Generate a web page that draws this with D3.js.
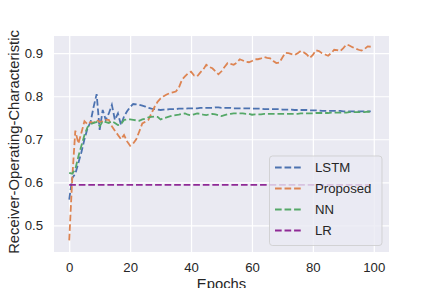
<!DOCTYPE html>
<html>
<head>
<meta charset="utf-8">
<script src="https://cdn.jsdelivr.net/npm/d3@7"></script>
<style>
  body { margin: 0; background: #fff; }
  text { font-family: "Liberation Sans", Arial, sans-serif; fill: #262626; }
</style>
</head>
<body>
<svg class="chart" width="432" height="288"></svg>
<script>
// values, one per epoch (0..99)
const lstm = [0.56,0.61,0.62,0.645,0.67,0.70,0.725,0.74,0.775,0.805,
  0.722,0.768,0.745,0.76,0.78,0.745,0.76,0.733,0.753,0.765,
  0.775,0.782,0.781,0.78,0.778,0.776,0.773,0.771,0.770,0.769,
  0.768,0.769,0.769,0.770,0.770,0.770,0.771,0.771,0.771,0.772,
  0.772,0.772,0.772,0.773,0.773,0.773,0.773,0.773,0.774,0.774,
  0.773,0.773,0.773,0.773,0.772,0.772,0.772,0.772,0.772,0.772,
  0.771,0.771,0.771,0.771,0.770,0.770,0.770,0.770,0.770,0.770,
  0.769,0.769,0.769,0.769,0.768,0.768,0.768,0.768,0.768,0.767,
  0.767,0.767,0.767,0.766,0.766,0.766,0.766,0.766,0.766,0.766,
  0.765,0.765,0.765,0.765,0.765,0.765,0.765,0.765,0.765,0.765]

const proposed = [0.465,0.61,0.72,0.69,0.715,0.742,0.735,0.74,0.738,0.745,
  0.74,0.742,0.745,0.745,0.73,0.72,0.71,0.70,0.71,0.695,
  0.685,0.69,0.70,0.718,0.737,0.741,0.745,0.76,0.775,0.787,
  0.795,0.80,0.804,0.807,0.809,0.811,0.82,0.838,0.846,0.853,
  0.857,0.848,0.846,0.855,0.862,0.873,0.868,0.865,0.858,0.851,
  0.858,0.868,0.877,0.875,0.873,0.878,0.886,0.883,0.88,0.879,
  0.882,0.886,0.886,0.888,0.891,0.889,0.888,0.882,0.877,0.878,
  0.89,0.901,0.90,0.898,0.896,0.90,0.905,0.902,0.897,0.889,
  0.896,0.907,0.905,0.90,0.897,0.894,0.90,0.908,0.907,0.905,
  0.912,0.92,0.918,0.914,0.911,0.908,0.906,0.91,0.916,0.915]

const nn = [0.622,0.62,0.63,0.66,0.685,0.71,0.728,0.735,0.738,0.74,
  0.73,0.742,0.74,0.738,0.742,0.738,0.733,0.735,0.745,0.746,
  0.746,0.745,0.744,0.743,0.746,0.748,0.751,0.752,0.753,0.752,
  0.746,0.749,0.751,0.753,0.755,0.756,0.757,0.759,0.76,0.757,
  0.756,0.758,0.76,0.759,0.757,0.756,0.758,0.759,0.758,0.756,
  0.754,0.756,0.758,0.759,0.76,0.76,0.76,0.76,0.759,0.759,
  0.757,0.758,0.758,0.758,0.759,0.759,0.759,0.759,0.759,0.759,
  0.759,0.759,0.759,0.759,0.759,0.759,0.760,0.760,0.760,0.760,
  0.760,0.761,0.761,0.761,0.761,0.761,0.762,0.762,0.762,0.762,
  0.762,0.762,0.763,0.763,0.763,0.763,0.763,0.763,0.764,0.764]

const lrValue = 0.594
const lr = lstm.map(() => lrValue)

const seriesNames = ['LSTM','Proposed','NN','LR']
const seriesColors = ['#4C72B0','#DD8452','#55A868','#8f2a96']
const seriesValues = [lstm, proposed, nn, lr]

const xTicks = [0,20,40,60,80,100]
const yTicks = [0.5,0.6,0.7,0.8,0.9]

const svg = d3.select('.chart')
const plotLeft = 54, plotRight = 389, plotTop = 36, plotBottom = 252

const x = d3.scaleLinear().domain([-5,105]).range([plotLeft,plotRight])
const y = d3.scaleLinear().domain([0.438,0.940]).range([plotBottom,plotTop])

// plot background
svg.append('rect')
  .attr('x',plotLeft).attr('y',plotTop)
  .attr('width',plotRight-plotLeft).attr('height',plotBottom-plotTop)
  .attr('fill','#EAEAF2')

// grid
const xAxis = svg.append('g')
  .attr('transform',`translate(0,${plotBottom})`)
  .call(d3.axisBottom(x).tickValues(xTicks).tickSize(-(plotBottom-plotTop)).tickPadding(8).tickFormat(d3.format('d')))
const yAxis = svg.append('g')
  .attr('transform',`translate(${plotLeft},0)`)
  .call(d3.axisLeft(y).tickValues(yTicks).tickSize(-(plotRight-plotLeft)).tickPadding(11).tickFormat(d3.format('.1f')))

svg.selectAll('.domain').remove()
svg.selectAll('.tick line').attr('stroke','#fff').attr('stroke-width',1.2)
svg.selectAll('.tick text')
  .style('font-size','13.2px')
  .attr('fill','#262626')
xAxis.selectAll('.tick text').attr('dy','0.71em').attr('y',10.5)

// lines
const line = d3.line()
  .x((d,i) => x(i))
  .y(d => y(d))

const plot = svg.append('g')
seriesValues.forEach((vals,k) => {
  plot.append('path')
    .datum(vals)
    .attr('d',line)
    .attr('fill','none')
    .attr('stroke',seriesColors[k])
    .attr('stroke-width',1.8)
    .attr('stroke-dasharray','6.66,2.88')
})

// axis labels
svg.append('text')
  .attr('x',(plotLeft+plotRight)/2)
  .attr('y',289)
  .attr('text-anchor','middle')
  .style('font-size','14.8px')
  .text('Epochs')

svg.append('text')
  .attr('transform',`translate(19,${(plotTop+plotBottom)/2 - 2}) rotate(-90)`)
  .attr('text-anchor','middle')
  .style('font-size','14.8px')
  .text('Receiver-Operating-Characteristic')

// legend
const legend = svg.append('g')
legend.append('rect')
  .attr('x',269.5).attr('y',156)
  .attr('width',112.5).attr('height',89.5)
  .attr('rx',3)
  .attr('fill','#EAEAF2').attr('fill-opacity',0.8)
  .attr('stroke','#cccccc').attr('stroke-opacity',0.8)

seriesNames.forEach((name,k) => {
  const ly = 167.5 + k*21
  legend.append('line')
    .attr('x1',275).attr('x2',301.5)
    .attr('y1',ly).attr('y2',ly)
    .attr('stroke',seriesColors[k])
    .attr('stroke-width',1.8)
    .attr('stroke-dasharray','6.66,2.88')
  legend.append('text')
    .attr('x',315)
    .attr('y',ly)
    .attr('dy','0.35em')
    .style('font-size','13.2px')
    .text(name)
})
</script>
</body>
</html>
